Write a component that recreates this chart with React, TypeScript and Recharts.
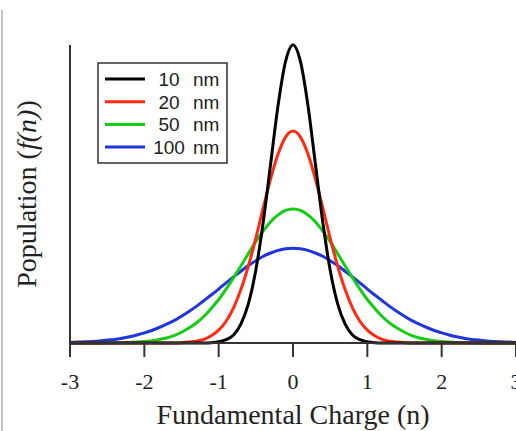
import React from 'react';
import { LineChart, Line, XAxis, YAxis, Label } from 'recharts';

// Fundamental charge n, sampled every 0.1 from -3 to 3
const charge = [
  -3.0, -2.9, -2.8, -2.7, -2.6, -2.5, -2.4, -2.3, -2.2, -2.1,
  -2.0, -1.9, -1.8, -1.7, -1.6, -1.5, -1.4, -1.3, -1.2, -1.1,
  -1.0, -0.9, -0.8, -0.7, -0.6, -0.5, -0.4, -0.3, -0.2, -0.1,
  0.0,
  0.1, 0.2, 0.3, 0.4, 0.5, 0.6, 0.7, 0.8, 0.9, 1.0,
  1.1, 1.2, 1.3, 1.4, 1.5, 1.6, 1.7, 1.8, 1.9, 2.0,
  2.1, 2.2, 2.3, 2.4, 2.5, 2.6, 2.7, 2.8, 2.9, 3.0,
];

// population (black peak = 100)
const nm10 = [
  0, 0, 0, 0, 0, 0, 0, 0, 0, 0,
  0, 0, 0, 0, 0, 0, 0, 0, 0, 0.1,
  0.4, 1.1, 2.7, 6.4, 13.2, 24.5, 40.7, 60.3, 79.9, 94.5,
  100,
  94.5, 79.9, 60.3, 40.7, 24.5, 13.2, 6.4, 2.7, 1.1, 0.4,
  0.1, 0, 0, 0, 0, 0, 0, 0, 0, 0,
  0, 0, 0, 0, 0, 0, 0, 0, 0, 0,
];
const nm20 = [
  0, 0, 0, 0, 0, 0, 0, 0, 0, 0,
  0, 0, 0, 0, 0, 0.1, 0.3, 0.6, 1.2, 2.4,
  4.3, 7.3, 11.8, 18.0, 25.9, 35.2, 45.4, 55.2, 63.5, 69.1,
  71.1,
  69.1, 63.5, 55.2, 45.4, 35.2, 25.9, 18.0, 11.8, 7.3, 4.3,
  2.4, 1.2, 0.6, 0.3, 0.1, 0, 0, 0, 0, 0,
  0, 0, 0, 0, 0, 0, 0, 0, 0, 0,
];
const nm50 = [
  0, 0, 0, 0, 0, 0, 0.1, 0.1, 0.2, 0.3,
  0.5, 0.8, 1.2, 1.7, 2.5, 3.6, 5.0, 6.7, 8.9, 11.6,
  14.6, 18.1, 21.9, 25.9, 30.0, 34.0, 37.6, 40.7, 43.0, 44.5,
  45.0,
  44.5, 43.0, 40.7, 37.6, 34.0, 30.0, 25.9, 21.9, 18.1, 14.6,
  11.6, 8.9, 6.7, 5.0, 3.6, 2.5, 1.7, 1.2, 0.8, 0.5,
  0.3, 0.2, 0.1, 0.1, 0, 0, 0, 0, 0, 0,
];
const nm100 = [
  0.2, 0.3, 0.4, 0.5, 0.7, 1.0, 1.2, 1.6, 2.1, 2.7,
  3.4, 4.2, 5.2, 6.3, 7.5, 9.0, 10.6, 12.3, 14.2, 16.1,
  18.1, 20.2, 22.2, 24.1, 26.0, 27.6, 29.1, 30.2, 31.1, 31.6,
  31.8,
  31.6, 31.1, 30.2, 29.1, 27.6, 26.0, 24.1, 22.2, 20.2, 18.1,
  16.1, 14.2, 12.3, 10.6, 9.0, 7.5, 6.3, 5.2, 4.2, 3.4,
  2.7, 2.1, 1.6, 1.2, 1.0, 0.7, 0.5, 0.4, 0.3, 0.2,
];

const xTicks = [-3, -2, -1, 0, 1, 2, 3];

const series = [
  { key: 'nm10', size: '10', color: '#000000' },
  { key: 'nm20', size: '20', color: '#ff2a12' },
  { key: 'nm50', size: '50', color: '#14cc14' },
  { key: 'nm100', size: '100', color: '#1f35dd' },
];

const data = charge.map((n, i) => ({
  n,
  nm10: nm10[i],
  nm20: nm20[i],
  nm50: nm50[i],
  nm100: nm100[i],
}));

const SERIF = '"Liberation Serif", "Times New Roman", serif';
const SANS = '"Liberation Sans", Arial, sans-serif';

const YTitle = ({ viewBox }: any) => {
  const cy = viewBox.y + viewBox.height / 2;
  const bx = 36;
  return (
    <text
      x={bx}
      y={cy}
      transform={`rotate(-90, ${bx}, ${cy})`}
      textAnchor="middle"
      fontFamily={SERIF}
      fontSize={28}
      fill="#222"
    >
      Population (<tspan fontStyle="italic">f(n)</tspan>)
    </text>
  );
};

const XTitle = ({ viewBox }: any) => (
  <text
    x={viewBox.x + viewBox.width / 2}
    y={424}
    textAnchor="middle"
    fontFamily={SERIF}
    fontSize={28}
    fill="#222"
  >
    Fundamental Charge (n)
  </text>
);

// boxed legend drawn over the plot, top left
const BoxLegend = () => (
  <svg width={131} height={102} style={{ position: 'absolute', left: 97, top: 62 }}>
    <rect x={1} y={1} width={129} height={100} fill="#fff" stroke="#333" strokeWidth={1.5} />
    {series.map((s, i) => {
      const y = 17 + i * 22.7;
      return (
        <g key={s.key}>
          <line x1={8} x2={48} y1={y} y2={y} stroke={s.color} strokeWidth={3} />
          <text x={72} y={y + 7} textAnchor="middle" fontFamily={SANS} fontSize={19} fill="#222">
            {s.size}
          </text>
          <text x={96} y={y + 7} fontFamily={SANS} fontSize={19} fill="#222">
            nm
          </text>
        </g>
      );
    })}
  </svg>
);

const App: React.FC = () => {
  return (
    <div style={{ position: 'relative', width: 516, height: 431, background: '#fff', overflow: 'hidden' }}>
      <style>{`body { margin: 0; }`}</style>
      <div style={{ position: 'absolute', left: 1, top: 10, width: 1.5, height: 421, background: '#c4c4c4' }} />
      <LineChart width={516} height={431} data={data} margin={{ top: 45, right: 0, bottom: 0, left: 0 }}>
        <XAxis
          dataKey="n"
          type="number"
          domain={[-3, 3]}
          ticks={xTicks}
          interval={0}
          height={88}
          tickSize={14}
          tickMargin={16}
          axisLine={{ stroke: '#333', strokeWidth: 2 }}
          tickLine={{ stroke: '#333', strokeWidth: 2 }}
          tick={{ fill: '#222', fontSize: 22, fontFamily: SERIF }}
        >
          <Label content={XTitle} />
        </XAxis>
        <YAxis
          type="number"
          domain={[0, 100]}
          width={70}
          tick={false}
          tickLine={false}
          axisLine={{ stroke: '#333', strokeWidth: 2 }}
        >
          <Label content={YTitle} />
        </YAxis>
        {[...series].reverse().map((s) => (
          <Line
            key={s.key}
            type="monotone"
            dataKey={s.key}
            stroke={s.color}
            strokeWidth={3}
            dot={false}
            isAnimationActive={false}
          />
        ))}
      </LineChart>
      <BoxLegend />
    </div>
  );
};

export default App;
